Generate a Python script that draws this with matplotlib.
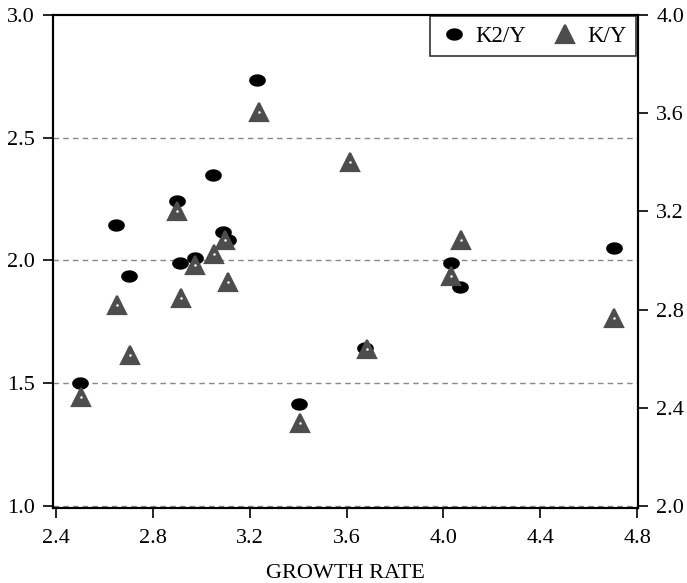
import numpy as np
import matplotlib
matplotlib.use("Agg")
import matplotlib.pyplot as plt
from matplotlib.path import Path

plt.rcParams["font.family"] = ["Liberation Serif", "DejaVu Serif"]

# K2/Y (left axis)
k2y_growth = [2.50, 2.648, 2.703, 2.899, 2.912, 2.974, 3.050, 3.091, 3.112,
              3.232, 3.405, 3.675, 4.031, 4.069, 4.703]
k2y_values = [1.50, 2.143, 1.935, 2.241, 1.989, 2.011, 2.347, 2.116, 2.082,
              2.735, 1.415, 1.645, 1.989, 1.891, 2.052]

# K/Y (right axis)
ky_growth = [2.502, 2.653, 2.706, 2.899, 2.915, 2.974, 3.053, 3.098, 3.109,
             3.240, 3.408, 3.615, 3.684, 4.031, 4.074, 4.706]
ky_values = [2.443, 2.819, 2.615, 3.203, 2.846, 2.982, 3.026, 3.083, 2.914,
             3.606, 2.337, 3.402, 2.638, 2.937, 3.083, 2.765]

x_ticks = [2.4, 2.8, 3.2, 3.6, 4.0, 4.4, 4.8]
left_ticks = [1.0, 1.5, 2.0, 2.5, 3.0]
right_ticks = [2.0, 2.4, 2.8, 3.2, 3.6, 4.0]

# horizontal ellipse marker
t = np.linspace(0, 2 * np.pi, 60)
ellipse = Path(np.column_stack([1.35 * np.cos(t), np.sin(t)]), closed=True)

fig = plt.figure(figsize=(6.87, 5.83), dpi=100)
ax = fig.add_axes([0.077, 0.129, 0.852, 0.845])
ax2 = ax.twinx()

for y in [1.0, 1.5, 2.0, 2.5]:
    ax.axhline(y, color="#888888", lw=1.0, ls=(0, (4, 3)), zorder=0)

ax.plot(k2y_growth, k2y_values, ls="none", marker=ellipse, ms=12,
        mfc="black", mec="black", mew=0, label="K2/Y", zorder=3)
ax2.plot(ky_growth, ky_values, ls="none", marker="^", ms=13.5,
         mfc="#4d4d4d", mec="#4d4d4d", mew=1.6, label="K/Y", zorder=3)
ax2.plot(ky_growth, ky_values, ls="none", marker="o", ms=1.8,
         mfc="white", mec="white", mew=0, zorder=4)

ax.set_xlim(2.388, 4.804)
ax.set_ylim(0.992, 3.0)
ax2.set_ylim(1.992, 4.0)

ax.set_xticks(x_ticks)
ax.set_xticklabels([f"{v:.1f}" for v in x_ticks])
ax.set_yticks(left_ticks)
ax.set_yticklabels([f"{v:.1f}" for v in left_ticks])
ax2.set_yticks(right_ticks)
ax2.set_yticklabels([f"{v:.1f}" for v in right_ticks])

ax.tick_params(axis="both", direction="out", length=7, width=1.2,
               labelsize=16, pad=6)
ax.tick_params(axis="x", pad=8)
ax2.tick_params(axis="y", direction="out", length=7, width=1.2,
                labelsize=16, pad=6)

for a in (ax, ax2):
    for s in a.spines.values():
        s.set_linewidth(1.5)

ax.set_xlabel("GROWTH RATE", fontsize=16, labelpad=12)

h1, l1 = ax.get_legend_handles_labels()
h2, l2 = ax2.get_legend_handles_labels()
leg = ax2.legend(h1 + h2, l1 + l2, ncol=2, loc="upper right",
                 bbox_to_anchor=(0.996, 0.998), borderaxespad=0,
                 fontsize=16.5, frameon=True, fancybox=False,
                 edgecolor="black", handletextpad=0.35, columnspacing=1.1,
                 handlelength=1.2, borderpad=0.42)
leg.get_frame().set_linewidth(1.2)

fig.savefig("out.png", dpi=100)
